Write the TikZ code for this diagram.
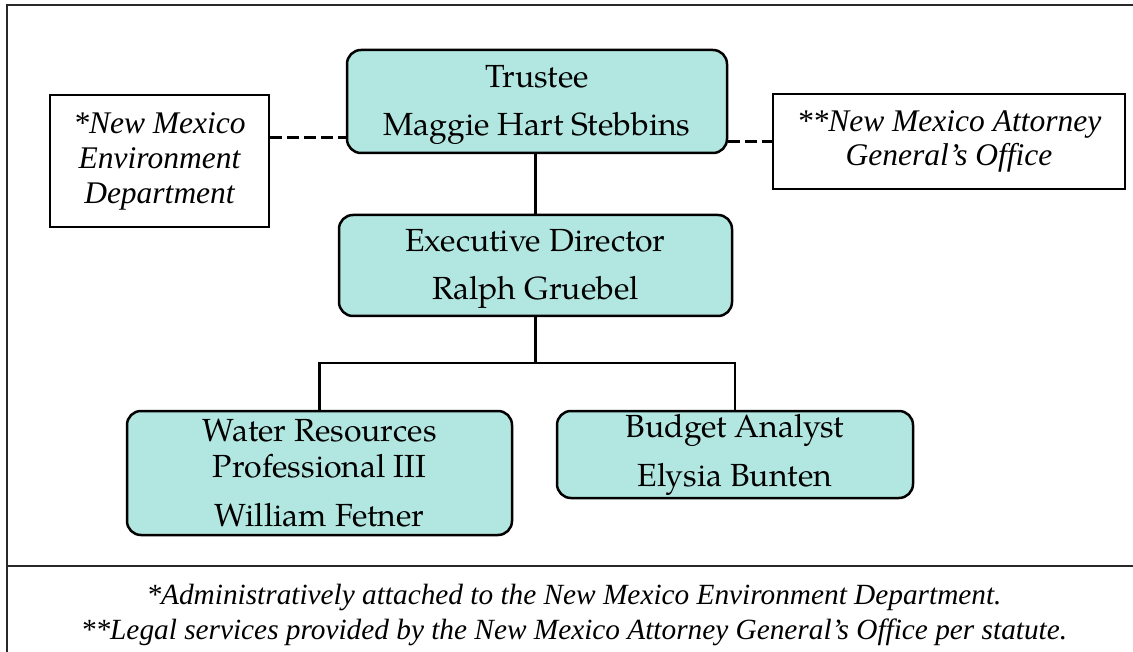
\documentclass[tikz,border=0pt]{standalone}
\usepackage{fontspec}
\setmainfont{Liberation Serif}
\newfontfamily\pal{texgyrepagella-regular.otf}
\definecolor{orgfill}{RGB}{178,230,224}
\definecolor{framegray}{RGB}{40,40,40}
\tikzset{
  orgbox/.style={draw=black, line width=2.5pt, fill=orgfill, rounded corners=14pt,
    inner sep=0pt, align=center, font=\pal\fontsize{32}{36}\selectfont},
  notebox/.style={draw=black, line width=2pt, inner sep=0pt, align=center,
    font=\itshape\fontsize{31.5}{35}\selectfont},
  solidlink/.style={draw=black, line width=2.5pt},
  dashlink/.style={draw=black, line width=3pt, dash pattern=on 12pt off 5pt},
  framestyle/.style={draw=framegray, line width=2pt}
}
\begin{document}
\begin{tikzpicture}[x=1pt,y=-1pt]
\useasboundingbox (0,0) rectangle (1133,652);
% frame
\coordinate (ftl) at (7,5);
\coordinate (ftr) at (1133,5);
\coordinate (fbl) at (7,652);
\coordinate (sepl) at (7,566);
\coordinate (sepr) at (1133,566);
\draw[framestyle] (fbl) -- (ftl) -- (ftr);
\draw[framestyle] (sepl) -- (sepr);

% nodes
\node[orgbox, minimum width=380pt, minimum height=103pt] (trustee) at (537,101.5)
  {\rule{0pt}{29pt}Trustee\\[12pt]Maggie Hart Stebbins};
\node[orgbox, minimum width=393pt, minimum height=101pt] (exec) at (535.5,265.5)
  {\rule{0pt}{29pt}Executive Director\\[12pt]Ralph Gruebel};
\node[orgbox, minimum width=385pt, minimum height=124pt] (water) at (319.5,473)
  {Water Resources\\Professional III\\[13pt]William Fetner};
\node[orgbox, minimum width=356pt, minimum height=87pt] (budget) at (735,454.5)
  {Budget Analyst\\[13pt]Elysia Bunten};
\node[notebox, minimum width=219pt, minimum height=132pt] (nmed) at (159.5,161)
  {*New Mexico\\Environment\\Department};
\node[notebox, minimum width=352pt, minimum height=95pt, font=\itshape\fontsize{31.5}{34}\selectfont] (ago) at (949,141.5)
  {**New Mexico Attorney\\General’s Office};
\node[align=center, inner sep=0pt, font=\itshape\fontsize{29.3}{35}\selectfont] (notes) at (574,615)
  {*Administratively attached to the New Mexico Environment Department.\\
   **Legal services provided by the New Mexico Attorney General’s Office per statute.};

% connectors
\coordinate (dl) at (0,138);
\coordinate (dr) at (0,142);
\draw[dashlink] (nmed.east |- dl) -- (trustee.west |- dl);
\draw[dashlink] (trustee.east |- dr) -- (ago.west |- dr);
\coordinate (bus) at (0,363);
\draw[solidlink] (trustee.south -| exec.north) -- (exec.north);
\draw[solidlink] (exec.south) -- (exec.south |- bus);
\draw[solidlink] (water.north) -- (water.north |- bus) -- (budget.north |- bus) -- (budget.north);
\end{tikzpicture}
\end{document}
